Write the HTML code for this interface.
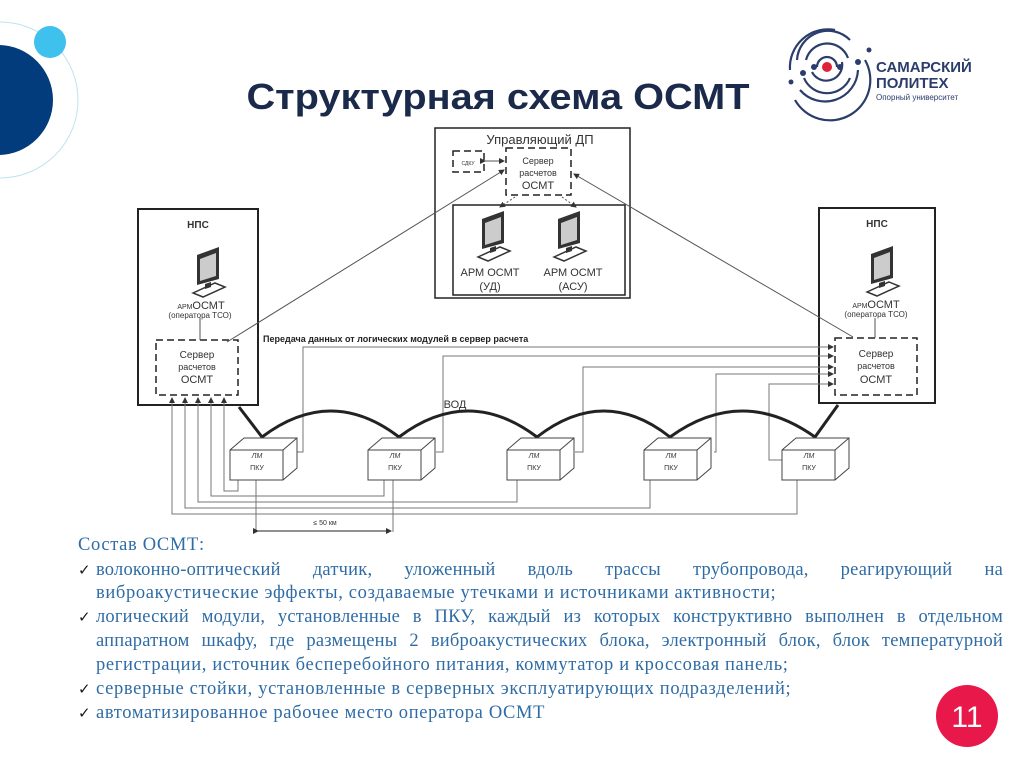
<!DOCTYPE html>
<html><head><meta charset="utf-8"><style>
body{margin:0;width:1024px;height:767px;background:#fff;overflow:hidden;position:relative;font-family:"Liberation Sans",sans-serif}
svg{position:absolute;left:0;top:0}
.txt{position:absolute;left:0;top:0;font-family:"Liberation Serif","Noto Serif CJK SC",serif;font-size:18.5px;letter-spacing:0.65px;color:#2f6ca6}
.l{position:absolute;left:96px;width:907px;white-space:nowrap;line-height:20px}
.j{text-align:justify;text-align-last:justify;white-space:normal;letter-spacing:0.2px}
.c{position:absolute;left:78px;font-size:15px;color:#1a1a1a;font-family:"DejaVu Sans",sans-serif;line-height:20px;letter-spacing:0}
</style></head><body>
<svg width="1024" height="767" viewBox="0 0 1024 767" font-family="Liberation Sans, sans-serif">
<defs>
<marker id="a" markerWidth="6" markerHeight="6" refX="5" refY="3" orient="auto"><path d="M0,0L6,3L0,6z" fill="#333"/></marker>
<g id="mon"><path d="M-10,-22 L12,-30 L12,2 L-10,8z" fill="#333"/><path d="M-7,-18 L9,-24 L9,-1 L-7,4z" fill="#ccc"/><path d="M-14,16 L8,6 L18,10 L-4,20z" fill="#fff" stroke="#333" stroke-width="1.5"/><path d="M-2,7 L4,5 L4,10 L-2,12z" fill="#333"/></g>
<g id="box"><path d="M0,12 L14,0 L67,0 L67,30 L53,42 L0,42z" fill="#fff" stroke="#444" stroke-width="1"/><path d="M0,12 L53,12 L67,0 M53,12 L53,42" fill="none" stroke="#444"/></g>
</defs>
<circle cx="0" cy="100" r="78" fill="none" stroke="#bfe3f0" stroke-width="1"/>
<circle cx="-2" cy="100" r="55" fill="#033c7c"/>
<circle cx="50" cy="42" r="16" fill="#3fc1ee"/>
<text x="498" y="109" font-size="36" font-weight="bold" text-anchor="middle" fill="#1b2a4a" textLength="503" lengthAdjust="spacingAndGlyphs">Структурная схема ОСМТ</text>
<g fill="none" stroke="#2b3d6b" stroke-width="2.2">
<path d="M817,67 A10,10 0 0 1 837,67"/><path d="M812,72 A16,16 0 0 0 842,62"/>
<path d="M806,60 A22,22 0 0 1 848,58"/><path d="M804,78 A25,25 0 0 0 850,78"/>
<path d="M797,60 A31,31 0 0 1 850,40"/><path d="M800,90 A33,33 0 0 0 858,70"/>
<path d="M790,70 A38,38 0 0 1 835,30"/><path d="M795,100 A40,40 0 0 0 865,60"/>
</g>
<circle cx="827" cy="67" r="5" fill="#e0213b"/>
<g fill="#2b3d6b"><circle cx="814" cy="67" r="3"/><circle cx="840" cy="67" r="3"/><circle cx="803" cy="73" r="3"/><circle cx="858" cy="62" r="3"/><circle cx="791" cy="82" r="2.5"/><circle cx="869" cy="50" r="2.5"/></g>
<text x="876" y="72" font-size="15" font-weight="bold" fill="#2b3d6b">САМАРСКИЙ</text>
<text x="876" y="88" font-size="15" font-weight="bold" fill="#2b3d6b">ПОЛИТЕХ</text>
<text x="876" y="100" font-size="8" fill="#2b3d6b">Опорный университет</text>
<g stroke="#222" fill="none">
<rect x="138" y="209" width="120" height="196" stroke-width="2"/>
<rect x="819" y="208" width="116" height="195" stroke-width="2"/>
<rect x="435" y="128" width="195" height="170" stroke-width="1.5"/>
<rect x="453" y="205" width="172" height="90" stroke-width="1.5"/>
<g stroke-dasharray="7,4" stroke-width="1.5">
<rect x="156" y="340" width="82" height="55"/><rect x="835" y="338" width="82" height="57"/>
<rect x="506" y="148" width="65" height="47"/><rect x="453" y="151" width="31" height="21"/>
</g>
<g stroke-width="1" stroke="#555">
<line x1="485" y1="161" x2="504" y2="161" marker-end="url(#a)" marker-start="url(#a)"/>
<line x1="227" y1="342" x2="504" y2="170" marker-end="url(#a)"/>
<line x1="853" y1="337" x2="574" y2="174" marker-end="url(#a)"/>
<line x1="200" y1="318" x2="200" y2="340"/><line x1="875" y1="318" x2="875" y2="338"/>
<line x1="515" y1="197" x2="500" y2="207" stroke-dasharray="2,2" marker-end="url(#a)"/>
<line x1="562" y1="197" x2="576" y2="207" stroke-dasharray="2,2" marker-end="url(#a)"/>
</g>
<g stroke="#777" stroke-width="1">
<path d="M297,452H303V347H833" marker-end="url(#a)"/>
<path d="M436,452H443V356H833" marker-end="url(#a)"/>
<path d="M575,452H583V367H833" marker-end="url(#a)"/>
<path d="M714,452H716V374H833" marker-end="url(#a)"/>
<path d="M783,460H769V384H833" marker-end="url(#a)"/>
<path d="M238,479V491H224V398" marker-end="url(#a)"/>
<path d="M384,479V496H211V398" marker-end="url(#a)"/>
<path d="M517,479V502H198V398" marker-end="url(#a)"/>
<path d="M650,479V508H185V398" marker-end="url(#a)"/>
<path d="M797,479V514H172V398" marker-end="url(#a)"/>
<path d="M256,479V532M393,479V532"/>
</g>
<line x1="258" y1="531" x2="391" y2="531" stroke="#222" marker-end="url(#a)" marker-start="url(#a)"/>
<path d="M239,407L262,437Q331,385 399,437Q468,385 537,437Q604,385 670,437Q742,385 815,437L838,405" stroke-width="3"/>
</g>
<use href="#box" x="230" y="438"/><use href="#box" x="368" y="438"/><use href="#box" x="507" y="438"/><use href="#box" x="644" y="438"/><use href="#box" x="782" y="438"/>
<g font-size="7" fill="#333" text-anchor="middle" font-style="italic">
<text x="257" y="458">ЛМ</text><text x="395" y="458">ЛМ</text><text x="534" y="458">ЛМ</text><text x="671" y="458">ЛМ</text><text x="809" y="458">ЛМ</text></g>
<g font-size="7" fill="#333" text-anchor="middle">
<text x="257" y="470">ПКУ</text><text x="395" y="470">ПКУ</text><text x="534" y="470">ПКУ</text><text x="671" y="470">ПКУ</text><text x="809" y="470">ПКУ</text>
<text x="325" y="525">≤ 50 км</text></g>
<use href="#mon" x="207" y="277"/><use href="#mon" x="881" y="276"/><use href="#mon" x="492" y="241"/><use href="#mon" x="568" y="241"/>
<g fill="#333" text-anchor="middle">
<text x="198" y="228" font-size="10" font-weight="bold">НПС</text>
<text x="877" y="227" font-size="10" font-weight="bold">НПС</text>
<text x="201" y="309" font-size="11"><tspan font-size="7">АРМ</tspan>ОСМТ</text>
<text x="200" y="318" font-size="8">(оператора ТСО)</text>
<text x="876" y="308" font-size="11"><tspan font-size="7">АРМ</tspan>ОСМТ</text>
<text x="876" y="317" font-size="8">(оператора ТСО)</text>
<text x="197" y="358" font-size="10">Сервер</text><text x="197" y="370" font-size="9">расчетов</text><text x="197" y="383" font-size="11">ОСМТ</text>
<text x="876" y="357" font-size="10">Сервер</text><text x="876" y="369" font-size="9">расчетов</text><text x="876" y="383" font-size="11">ОСМТ</text>
<text x="538" y="164" font-size="9">Сервер</text><text x="538" y="176" font-size="9">расчетов</text><text x="538" y="189" font-size="11">ОСМТ</text>
<text x="468" y="165" font-size="5">СДКУ</text>
<text x="540" y="144" font-size="13">Управляющий ДП</text>
<text x="490" y="276" font-size="11">АРМ ОСМТ</text><text x="490" y="290" font-size="11">(УД)</text>
<text x="573" y="276" font-size="11">АРМ ОСМТ</text><text x="573" y="290" font-size="11">(АСУ)</text>
<text x="455" y="408" font-size="11">ВОД</text>
</g>
<text x="263" y="342" font-size="9" fill="#222" font-weight="bold">Передача данных от логических модулей в сервер расчета</text>
<circle cx="967" cy="716" r="31" fill="#e8194a"/>
<text x="967" y="727" font-size="30" fill="#fff" text-anchor="middle">11</text>
</svg>
<div class="txt">
<div class="l" style="left:78px;top:535px">Состав ОСМТ:</div>
<div class="c" style="top:560px">✓</div>
<div class="l j" style="top:560px">волоконно-оптический датчик, уложенный вдоль трассы трубопровода, реагирующий на</div>
<div class="l" style="top:583px">виброакустические эффекты, создаваемые утечками и источниками активности;</div>
<div class="c" style="top:607px">✓</div>
<div class="l j" style="top:607px">логический модули, установленные в ПКУ, каждый из которых конструктивно выполнен в отдельном</div>
<div class="l j" style="top:631px">аппаратном шкафу, где размещены 2 виброакустических блока, электронный блок, блок температурной</div>
<div class="l" style="top:655px">регистрации, источник бесперебойного питания, коммутатор и кроссовая панель;</div>
<div class="c" style="top:679px">✓</div>
<div class="l" style="top:679px">серверные стойки, установленные в серверных эксплуатирующих подразделений;</div>
<div class="c" style="top:703px">✓</div>
<div class="l" style="top:703px">автоматизированное рабочее место оператора ОСМТ</div>
</div>
</body></html>
